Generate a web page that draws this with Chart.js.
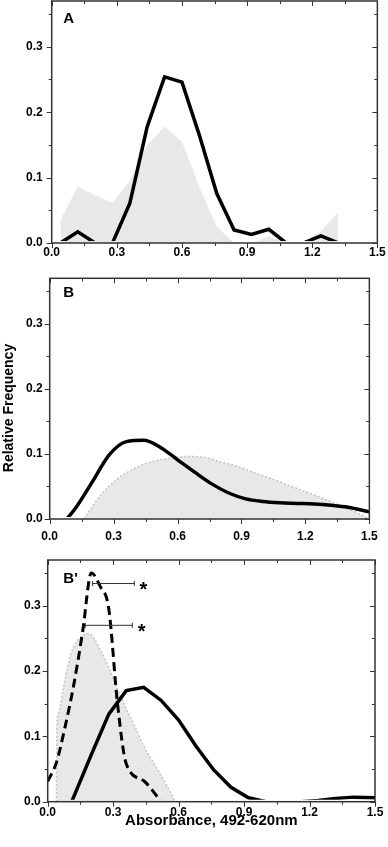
<!DOCTYPE html>
<html>
<head>
<meta charset="utf-8">
<script src="https://cdn.jsdelivr.net/npm/chart.js@4.4.1/dist/chart.umd.min.js"></script>
<style>
  html, body { margin: 0; padding: 0; background: #fff; }
  #wrap { position: relative; width: 388px; height: 847px; overflow: hidden; }
  canvas { position: absolute; left: 0; }
  #ytitle {
    position: absolute; left: -92.4px; top: 400.8px; width: 200px; height: 14px;
    line-height: 14px; text-align: center; white-space: nowrap;
    font-family: Arial, "Liberation Sans", sans-serif; font-weight: bold; font-size: 14px;
    transform: rotate(-90deg);
  }
</style>
</head>
<body>
<div id="wrap">
  <canvas id="panelA"></canvas>
  <canvas id="panelB"></canvas>
  <canvas id="panelBp"></canvas>
  <div id="ytitle">Relative Frequency</div>
</div>
<script>
// axis ranges (same for all panels)
const X_MIN = 0, X_MAX = 1.5, X_STEP = 0.15;
const Y_MIN = 0, Y_MAX = 0.37, Y_STEP = 0.05;

// panel A
const A_X = [0.04, 0.12, 0.2, 0.28, 0.36, 0.44, 0.52, 0.6, 0.68, 0.76, 0.84, 0.92, 1.0, 1.08, 1.16, 1.24, 1.32];
const A_LINE = [0, 0.017, 0, 0, 0.061, 0.178, 0.254, 0.246, 0.165, 0.076, 0.020, 0.013, 0.021, 0, 0, 0.011, 0];
const A_AREA = [0.035, 0.086, 0.073, 0.061, 0.095, 0.150, 0.178, 0.155, 0.086, 0.025, 0, 0, 0.010, 0, 0, 0.018, 0.047];

// panel B
const B_LINE_X = [0.08, 0.12, 0.2, 0.28, 0.36, 0.44, 0.52, 0.6, 0.68, 0.76, 0.84, 0.92, 1.0, 1.08, 1.16, 1.24, 1.32, 1.4, 1.5];
const B_LINE = [0, 0.016, 0.057, 0.099, 0.119, 0.121, 0.110, 0.091, 0.072, 0.054, 0.040, 0.031, 0.027, 0.025, 0.024, 0.023, 0.021, 0.018, 0.011];
const B_AREA_X = [0.16, 0.24, 0.32, 0.4, 0.48, 0.56, 0.64, 0.72, 0.8, 0.88, 0.96, 1.04, 1.12, 1.2, 1.28, 1.36, 1.44, 1.5];
const B_AREA = [0, 0.037, 0.062, 0.078, 0.088, 0.093, 0.096, 0.095, 0.088, 0.081, 0.071, 0.062, 0.052, 0.042, 0.032, 0.021, 0.010, 0];

// panel B'
const BP_LINE_X = [0.11, 0.2, 0.28, 0.36, 0.44, 0.52, 0.6, 0.68, 0.76, 0.84, 0.92, 1.0, 1.08, 1.16, 1.24, 1.32, 1.4, 1.5];
const BP_LINE = [0, 0.072, 0.134, 0.170, 0.175, 0.155, 0.125, 0.085, 0.049, 0.022, 0.006, 0, 0, 0, 0.002, 0.005, 0.007, 0.006];
const BP_DASH_X = [0, 0.04, 0.08, 0.12, 0.16, 0.2, 0.24, 0.28, 0.32, 0.36, 0.44, 0.52];
const BP_DASH = [0.031, 0.06, 0.115, 0.18, 0.26, 0.35, 0.33, 0.295, 0.15, 0.058, 0.032, 0];
const BP_AREA_X = [0.04, 0.042, 0.05, 0.07, 0.09, 0.12, 0.16, 0.19, 0.24, 0.28, 0.32, 0.36, 0.4, 0.44, 0.48, 0.52, 0.55, 0.585];
const BP_AREA = [0, 0.115, 0.135, 0.17, 0.205, 0.238, 0.254, 0.257, 0.233, 0.205, 0.173, 0.142, 0.115, 0.085, 0.062, 0.04, 0.022, 0];
const BP_BAR1_X = [0.206, 0.397], BP_BAR1_Y = 0.334;
const BP_BAR2_X = [0.172, 0.388], BP_BAR2_Y = 0.270;
const BP_STAR_X = [0.438, 0.431];
const BP_STAR_Y = [0.332, 0.268];

const GREY = 'rgb(232,232,232)';
const FONT = 'Arial, "Liberation Sans", sans-serif';
const LINE_CLIP = {left: 0, top: 0, right: 0, bottom: -2};

const pts = (xs, ys) => xs.map((x, i) => ({x, y: ys[i]}));

const framePlugin = {
    id: 'frame',
    afterDatasetsDraw(chart) {
        const {ctx, chartArea: a, scales: {x, y}} = chart;
        ctx.save();
        ctx.strokeStyle = '#333';
        ctx.lineWidth = 1;
        const seg = (x1, y1, x2, y2) => { ctx.beginPath(); ctx.moveTo(x1, y1); ctx.lineTo(x2, y2); ctx.stroke(); };
        x.ticks.forEach((t, i) => {
            const px = Math.round(x.getPixelForValue(t.value)) + 0.5;
            const len = i % 2 ? 3 : 5;
            seg(px, a.bottom, px, a.bottom + len);
            seg(px, a.top, px, a.top + len);
        });
        y.ticks.forEach((t, i) => {
            const py = Math.round(y.getPixelForValue(t.value)) + 0.5;
            const len = i % 2 ? 3 : 5;
            seg(a.left - len, py, a.left, py);
            seg(a.right - len, py, a.right, py);
        });
        ctx.lineWidth = 1.5;
        ctx.strokeRect(a.left, a.top, a.right - a.left, a.bottom - a.top);
        ctx.restore();
    }
};

function textPlugin(letter, lx, ly, stars) {
    return {
        id: 'labels',
        afterDraw(chart) {
            const {ctx, scales: {x, y}} = chart;
            ctx.save();
            ctx.fillStyle = '#000';
            ctx.font = 'bold 15px ' + FONT;
            ctx.textBaseline = 'alphabetic';
            ctx.fillText(letter, lx, ly);
            if (stars) {
                ctx.font = 'bold 20px ' + FONT;
                ctx.textAlign = 'center';
                stars.x.forEach((v, i) => {
                    ctx.fillText('*', x.getPixelForValue(v), y.getPixelForValue(stars.y[i]) + 11);
                });
            }
            ctx.restore();
        }
    };
}

function panel(p, datasets) {
    const canvas = document.getElementById(p.id);
    canvas.width = 388;
    canvas.height = p.height;
    canvas.style.top = p.top + 'px';
    const tickFont = {family: FONT, size: 12, weight: 'bold'};
    return new Chart(canvas, {
        type: 'line',
        data: {datasets},
        options: {
            responsive: false,
            animation: false,
            devicePixelRatio: 1,
            layout: {padding: {top: p.padTop, left: 0, right: 388 - p.right, bottom: 0}},
            elements: {point: {radius: 0}},
            plugins: {legend: {display: false}, tooltip: {enabled: false}},
            scales: {
                x: {
                    type: 'linear', min: X_MIN, max: X_MAX,
                    grid: {display: false, drawTicks: false},
                    border: {display: false},
                    ticks: {
                        stepSize: X_STEP, autoSkip: false, maxRotation: 0, includeBounds: false,
                        padding: p.xPad, color: '#000', font: tickFont,
                        callback: (v, i) => i % 2 ? '' : v.toFixed(1),
                    },
                    title: p.xTitle ? {
                        display: true, text: p.xTitle, color: '#000',
                        font: {family: FONT, size: 15, weight: 'bold'},
                        padding: {top: 0, bottom: p.xTitlePad},
                    } : {display: false},
                    afterFit: s => { s.height = p.xHeight; },
                },
                y: {
                    type: 'linear', min: Y_MIN, max: Y_MAX,
                    grid: {display: false, drawTicks: false},
                    border: {display: false},
                    ticks: {
                        stepSize: Y_STEP, autoSkip: false, includeBounds: false,
                        padding: p.yPad, color: '#000', font: tickFont,
                        callback: (v, i) => i % 2 ? '' : v.toFixed(1),
                    },
                    afterFit: s => { s.width = p.left; },
                },
            },
        },
        plugins: [framePlugin, textPlugin(p.letter, p.letterX, p.letterY, p.stars)],
    });
}

const solid = (xs, ys, tension) => ({
    data: pts(xs, ys), borderColor: '#000', borderWidth: 3.5, tension, fill: false, clip: LINE_CLIP,
});
const area = (xs, ys, dotted) => ({
    data: pts(xs, ys), backgroundColor: GREY, fill: 'origin', clip: 0,
    borderColor: dotted ? 'rgb(196,196,196)' : 'transparent', borderWidth: dotted ? 1.5 : 0,
    borderDash: dotted ? [2, 2] : [], cubicInterpolationMode: dotted ? 'monotone' : 'default',
});
const errBar = (xs, yv) => ({
    data: pts(xs, [yv, yv]), borderColor: '#333', borderWidth: 1, fill: false,
    pointStyle: 'line', pointRadius: 2.5, pointBorderWidth: 1, pointBorderColor: '#333', pointRotation: 90,
});

// canvases start above each frame so the layout never adds its own top padding
panel({id: 'panelA', top: -20, height: 282, padTop: 21, left: 51.7, right: 378.3, xHeight: 19, xPad: 2.3, yPad: 9,
       letter: 'A', letterX: 63.3, letterY: 42.5}, [
    solid(A_X, A_LINE, 0),
    area(A_X, A_AREA, false),
]);

panel({id: 'panelB', top: 255, height: 290, padTop: 23.3, left: 49.7, right: 377.7, xHeight: 26, xPad: 10.3, yPad: 7,
       letter: 'B', letterX: 63.3, letterY: 41.5}, [
    {...solid(B_LINE_X, B_LINE, 0), cubicInterpolationMode: 'monotone'},
    area(B_AREA_X, B_AREA, true),
]);

panel({id: 'panelBp', top: 530, height: 317, padTop: 30, left: 47.7, right: 375, xHeight: 45.3, xPad: 3.3, yPad: 7,
       letter: "B'", letterX: 63.3, letterY: 53.3, xTitle: 'Absorbance, 492-620nm', xTitlePad: 17.6,
       stars: {x: BP_STAR_X, y: BP_STAR_Y}}, [
    errBar(BP_BAR1_X, BP_BAR1_Y),
    errBar(BP_BAR2_X, BP_BAR2_Y),
    solid(BP_LINE_X, BP_LINE, 0),
    {...solid(BP_DASH_X, BP_DASH, 0), borderWidth: 3, borderDash: [9, 5], cubicInterpolationMode: 'monotone'},
    area(BP_AREA_X, BP_AREA, true),
]);
</script>
</body>
</html>
